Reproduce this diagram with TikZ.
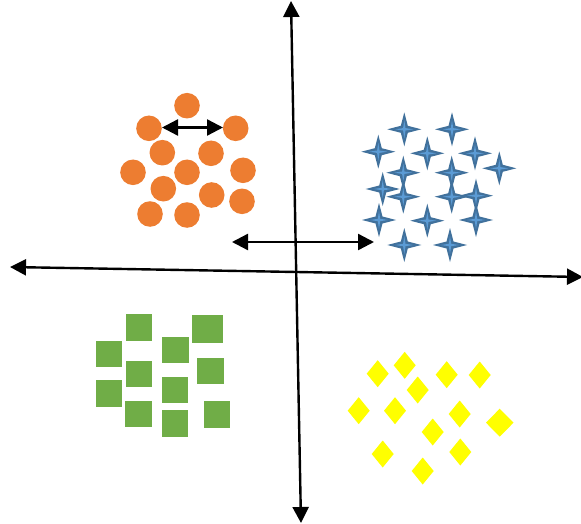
\documentclass[tikz,border=0pt]{standalone}
\usetikzlibrary{arrows.meta}
\definecolor{dotorange}{HTML}{ED7D31}
\definecolor{starblue}{HTML}{41719C}
\definecolor{starlight}{HTML}{5B9BD5}
\definecolor{sqgreen}{HTML}{70AD47}
\definecolor{diayellow}{HTML}{FFFF00}
\tikzset{
  axis/.style={line width=2.4pt, {Triangle[length=16pt,width=16pt]}-{Triangle[length=16pt,width=16pt]}},
  dot/.style={fill=dotorange, draw=none},
  sq/.style={fill=sqgreen, draw=none},
  dia/.style={fill=diayellow, draw=none},
}
\newcommand{\mystar}[2]{%
  \fill[starblue,shift={(#1,#2)}] (0,-17) -- (3.5,-3.5) -- (17,0) -- (3.5,3.5) -- (0,17) -- (-3.5,3.5) -- (-17,0) -- (-3.5,-3.5) -- cycle;
  \fill[starlight,shift={(#1,#2)}] (0,-9) -- (1.2,-1.2) -- (9,0) -- (1.2,1.2) -- (0,9) -- (-1.2,1.2) -- (-9,0) -- (-1.2,-1.2) -- cycle;}
\newcommand{\mydia}[2]{\fill[dia,shift={(#1,#2)}] (0,-13.5) -- (11,0) -- (0,13.5) -- (-11,0) -- cycle;}
\begin{document}
\begin{tikzpicture}[x=1pt,y=-1pt]
\useasboundingbox (0,0) rectangle (581,524);
% orange circles
\foreach \x/\y in {187/105.7,149/128.3,235.7/128.3,162.3/152.7,211/153.3,133/172.3,187/172.3,243/170.3,163.3/188.7,211.7/195,242/201.3,150/214,187/215}
  \fill[dot] (\x,\y) circle (12.8);
% blue stars
\foreach \x/\y in {404.3/129.3,452/129.3,378.3/151.7,427.3/153.3,475/153.3,499.3/168.3,403.3/172.7,451.7/172.7,382.7/189,403.3/196.7,451.7/196.7,476/195.7,379/220,427.3/220.7,476/220,404.3/245,450/245}
  {\mystar{\x}{\y}}
% green squares
\foreach \x/\y in {139/327.7,109/354,175.7/350,139/374,210.7/371,109/393.3,175/390,138.3/414,217/414.7,175/423.3}
  \fill[sq] (\x-13.3,\y-13.3) rectangle (\x+13.3,\y+13.3);
\fill[sq] (191.8,315.3) rectangle (222.8,343.3);
% yellow diamonds
\foreach \x/\y in {377.7/373.7,404.7/365.3,446.7/374.7,479.7/375,417.7/390,358.7/410.7,395/410.7,459.7/414,432.7/432,382.7/454,460.3/452,422.7/471}
  {\mydia{\x}{\y}}
\fill[dia] (499.7,408.7) -- (513.5,422.7) -- (499.7,436.7) -- (486,422.7) -- cycle;
% axes
\coordinate (vt) at (291,1);
\coordinate (vb) at (301,523);
\coordinate (hl) at (10,267);
\coordinate (hr) at (583,277);
\coordinate (ml) at (232,242);
\coordinate (mr) at (374,242);
\coordinate (ol) at (162,127.5);
\coordinate (or) at (223,127.5);
\draw[axis] (vb) -- (vt);
\draw[axis] (hl) -- (hr);
\draw[axis] (ml) -- (mr);
\draw[axis] (ol) -- (or);
\end{tikzpicture}
\end{document}
